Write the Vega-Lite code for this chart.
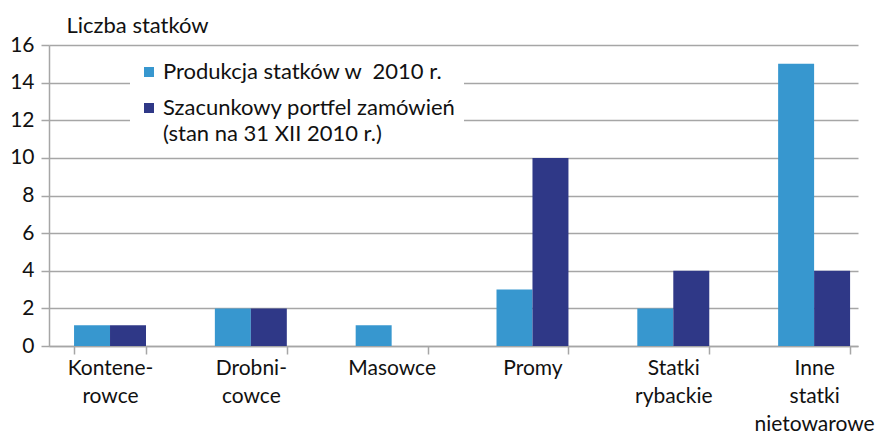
{
  "$schema": "https://vega.github.io/schema/vega-lite/v6.json",
  "width": 809,
  "height": 301,
  "autosize": {"type": "none"},
  "padding": {"left": 49, "top": 45, "right": 32, "bottom": 90},
  "background": "white",
  "config": {
    "font": "Lato",
    "view": {"stroke": null},
    "style": {"guide-label": {"lineHeight": 26}},
    "axis": {
      "domainColor": "#a6a6a6",
      "domainWidth": 1.5,
      "tickColor": "#a6a6a6",
      "tickWidth": 1.5,
      "gridColor": "#a6a6a6",
      "gridWidth": 1.5,
      "labelColor": "#111111",
      "labelFont": "Lato",
      "labelFontSize": 21,
      "titleFont": "Lato",
      "titleColor": "#111111"
    }
  },
  "data": {
    "values": [
      {"kategoria": "Kontene-|rowce", "seria": "Produkcja statków w \u00a02010 r.", "liczba": 1.1},
      {"kategoria": "Kontene-|rowce", "seria": "Szacunkowy portfel zamówień|(stan na 31 XII 2010 r.)", "liczba": 1.1},
      {"kategoria": "Drobni-|cowce", "seria": "Produkcja statków w \u00a02010 r.", "liczba": 2},
      {"kategoria": "Drobni-|cowce", "seria": "Szacunkowy portfel zamówień|(stan na 31 XII 2010 r.)", "liczba": 2},
      {"kategoria": "Masowce", "seria": "Produkcja statków w \u00a02010 r.", "liczba": 1.1},
      {"kategoria": "Masowce", "seria": "Szacunkowy portfel zamówień|(stan na 31 XII 2010 r.)", "liczba": 0},
      {"kategoria": "Promy", "seria": "Produkcja statków w \u00a02010 r.", "liczba": 3},
      {"kategoria": "Promy", "seria": "Szacunkowy portfel zamówień|(stan na 31 XII 2010 r.)", "liczba": 10},
      {"kategoria": "Statki|rybackie", "seria": "Produkcja statków w \u00a02010 r.", "liczba": 2},
      {"kategoria": "Statki|rybackie", "seria": "Szacunkowy portfel zamówień|(stan na 31 XII 2010 r.)", "liczba": 4},
      {"kategoria": "Inne|statki|nietowarowe", "seria": "Produkcja statków w \u00a02010 r.", "liczba": 15},
      {"kategoria": "Inne|statki|nietowarowe", "seria": "Szacunkowy portfel zamówień|(stan na 31 XII 2010 r.)", "liczba": 4}
    ]
  },
  "mark": {"type": "bar"},
  "encoding": {
    "x": {
      "field": "kategoria",
      "type": "nominal",
      "sort": null,
      "scale": {"paddingInner": 0.489, "paddingOuter": 0.117, "align": 0.76},
      "axis": {
        "title": null,
        "labelAngle": 0,
        "labelExpr": "split(datum.label, '|')",
        "labelFontSize": 21,
        "labelLineHeight": 28,
        "labelBaseline": "top",
        "labelPadding": 3,
        "tickSize": 8,
        "tickBand": "extent",
        "grid": false
      }
    },
    "xOffset": {"field": "seria", "sort": null, "scale": {"paddingInner": 0, "paddingOuter": 0}},
    "y": {
      "field": "liczba",
      "type": "quantitative",
      "scale": {"domain": [0, 16], "nice": false},
      "axis": {
        "values": [0, 2, 4, 6, 8, 10, 12, 14, 16],
        "title": "Liczba statków",
        "titleAngle": 0,
        "titleAlign": "left",
        "titleBaseline": "alphabetic",
        "titleX": 17,
        "titleY": -13,
        "titleFontSize": 22,
        "titleFontWeight": "normal",
        "tickSize": 8,
        "labelPadding": 7,
        "grid": true
      }
    },
    "color": {
      "field": "seria",
      "type": "nominal",
      "sort": null,
      "scale": {"range": ["#3797CF", "#2F3887"]},
      "legend": {
        "title": null,
        "orient": "none",
        "legendX": 81,
        "legendY": 8,
        "padding": 8,
        "fillColor": "white",
        "symbolType": "square",
        "symbolSize": 100,
        "symbolStrokeWidth": 0,
        "labelFont": "Lato",
        "labelFontSize": 22,
        "labelColor": "#111111",
        "labelLimit": 450,
        "labelOffset": 3,
        "rowPadding": 14,
        "labelExpr": "split(datum.label, '|')"
      }
    }
  }
}
